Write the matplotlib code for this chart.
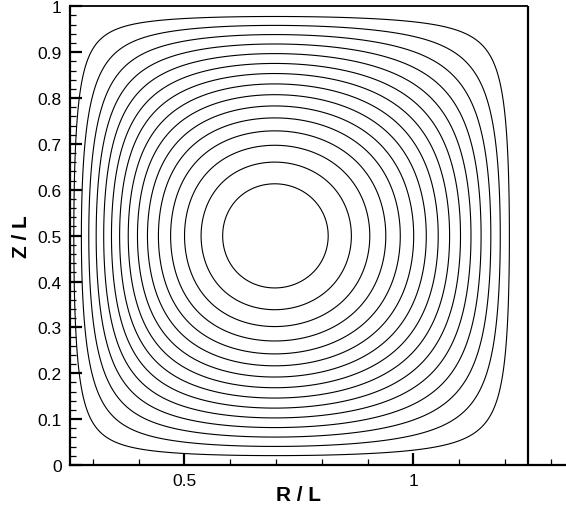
import numpy as np
import matplotlib
matplotlib.use("Agg")
import matplotlib.pyplot as plt
from matplotlib.ticker import MultipleLocator, FixedLocator, FixedFormatter

plt.rcParams['font.family'] = ['Liberation Sans', 'DejaVu Sans']

# ---- data ----
# normalised stream-function contour levels (outer -> inner)
levels = [1/16, 2/16, 3/16, 4/16, 5/16, 6/16, 7/16, 8/16,
          9/16, 10/16, 11/16, 12/16, 13/16, 14/16, 15/16]

# crossings of each contour with the horizontal mid-line Z/L = 0.5 (inner -> outer)
r_left = [0.5830, 0.5365, 0.5016, 0.4694, 0.4426, 0.4186, 0.3967, 0.3771,
          0.3590, 0.3415, 0.3240, 0.3072, 0.2904, 0.2740, 0.2590]
r_right = [0.8132, 0.8640, 0.9055, 0.9404, 0.9717, 1.0009, 1.0278, 1.0540,
           1.0786, 1.1026, 1.1260, 1.1485, 1.1697, 1.1893, 1.2097]
r_center = 0.6976

# crossings with the vertical line through the vortex centre (inner -> outer)
z_low = [0.3852, 0.3386, 0.3024, 0.2710, 0.2420, 0.2165, 0.1912, 0.1679,
         0.1461, 0.1243, 0.1025, 0.0822, 0.0604, 0.0408, 0.0203]
z_high = [0.6126, 0.6599, 0.6983, 0.7288, 0.7565, 0.7820, 0.8066, 0.8306,
          0.8539, 0.8757, 0.8975, 0.9178, 0.9381, 0.9577, 0.9782]
z_center = 0.5

r_domain = (0.25, 1.25)
z_domain = (0.0, 1.0)
x_major = [0.5, 1.0]
x_major_labels = ["0.5", "1"]
y_major = [0.0, 0.1, 0.2, 0.3, 0.4, 0.5, 0.6, 0.7, 0.8, 0.9, 1.0]
y_major_labels = ["0", "0.1", "0.2", "0.3", "0.4", "0.5", "0.6", "0.7", "0.8", "0.9", "1"]


def profile(lo, hi, center):
    """Smooth 1-D profile through the read crossing positions."""
    lv_in_to_out = np.array(levels[::-1])          # 15/16 ... 1/16
    th_lo = -np.arccos(lv_in_to_out)
    th_hi = np.arccos(lv_in_to_out)
    th = np.concatenate([th_lo, [0.0], th_hi])
    pos = np.concatenate([lo, [center], hi])
    coef = np.polyfit(th, pos, 7)
    tt = np.linspace(-np.pi / 2, np.pi / 2, 4001)
    pp = np.polyval(coef, tt)
    return pp, np.cos(tt)


rp, fv = profile(r_left, r_right, r_center)
zp, gv = profile(z_low, z_high, z_center)

R = np.linspace(r_domain[0], r_domain[1], 600)
Z = np.linspace(z_domain[0], z_domain[1], 600)
F = np.interp(R, rp, fv, left=0.0, right=0.0)
G = np.interp(Z, zp, gv, left=0.0, right=0.0)
PSI = G[:, None] * F[None, :]

W, H = 566, 510
fig = plt.figure(figsize=(W / 100, H / 100), dpi=100)
ax = fig.add_axes([70 / W, 44 / H, 496 / W, 458.7 / H])

ax.contour(R, Z, PSI, levels=levels, colors='black', linewidths=0.8)

ax.set_xlim(0.25, 1.3334)
ax.set_ylim(0.0, 1.0)

# frame: open to the right like the original
ax.spines['top'].set_visible(False)
ax.spines['right'].set_visible(False)
ax.spines['left'].set_linewidth(1.6)
ax.spines['bottom'].set_linewidth(1.6)
ax.plot([r_domain[0], r_domain[1]], [z_domain[1], z_domain[1]], color='black', lw=1.3,
        clip_on=False, solid_capstyle='butt')
ax.plot([r_domain[1], r_domain[1]], [z_domain[0], z_domain[1]], color='black', lw=1.6,
        clip_on=False, solid_capstyle='butt')

ax.xaxis.set_major_locator(FixedLocator(x_major))
ax.xaxis.set_major_formatter(FixedFormatter(x_major_labels))
ax.xaxis.set_minor_locator(MultipleLocator(0.1))
ax.yaxis.set_major_locator(FixedLocator(y_major))
ax.yaxis.set_major_formatter(FixedFormatter(y_major_labels))
ax.yaxis.set_minor_locator(MultipleLocator(0.02))

ax.tick_params(which='major', direction='in', length=8.5, width=1.6, labelsize=12.5, pad=6)
ax.tick_params(which='minor', direction='in', length=4.2, width=0.9)
ax.tick_params(axis='x', which='both', top=False)
ax.tick_params(axis='y', which='both', right=False)

ax.set_xlabel('R / L', fontsize=15, fontweight='bold')
ax.set_ylabel('Z / L', fontsize=15, fontweight='bold')
ax.xaxis.set_label_coords((298 - 70) / 496, -(486 - 466) / 458.7)
ax.yaxis.set_label_coords(-(70 - 31) / 496, (466 - 237) / 458.7)

fig.savefig('out.png', dpi=100)
